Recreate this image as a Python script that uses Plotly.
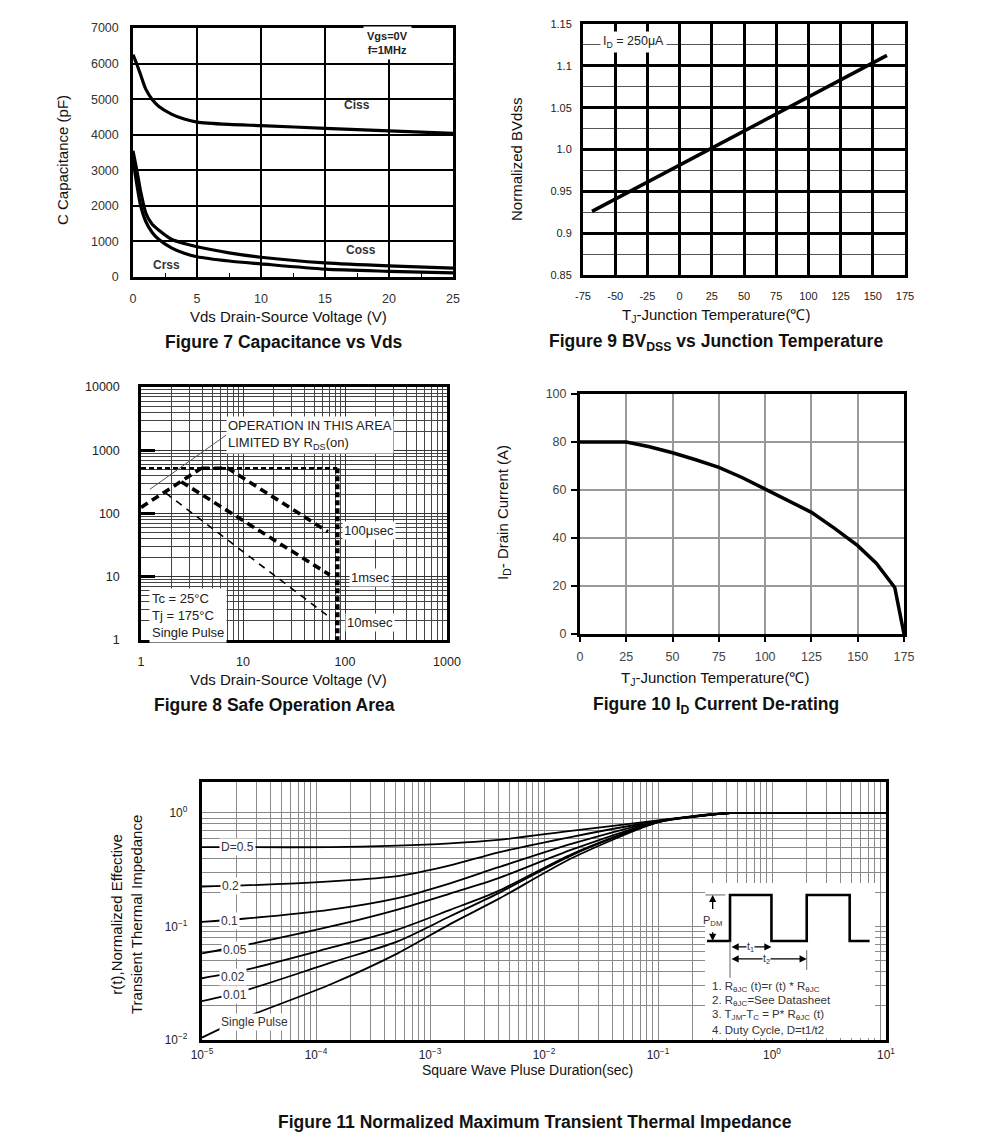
import numpy as np
import plotly.graph_objects as go

W, H = 991, 1147
FONT = "Liberation Sans, Arial, Helvetica, sans-serif"

# ---------------- data ----------------
# Figure 7 - Capacitance vs Vds
cap_vds = [0, 0.3, 0.6, 1, 1.5, 2, 3, 4, 5, 7.5, 10, 15, 20, 25]
ciss_pf = [6250, 5980, 5680, 5280, 4990, 4800, 4580, 4440, 4355, 4290, 4255, 4180, 4110, 4040]
coss_pf = [3550, 3000, 2400, 1800, 1480, 1320, 1060, 940, 850, 680, 555, 395, 310, 250]
crss_pf = [3300, 2600, 2000, 1560, 1250, 1060, 820, 670, 570, 450, 370, 220, 160, 115]

# Figure 9 - BVdss vs junction temperature
bv_tj = [-68, 161]
bv_norm = [0.926, 1.1125]

# Figure 8 - Safe operating area
rds_vds = [1, 3.9]
rds_id = [125, 518]
dc_vds = [1, 84]
dc_id = [518, 518]
vmax_vds = [84, 84]
vmax_id = [518, 1]
us100_vds = [3.9, 7.1, 68]
us100_id = [518, 518, 51.5]
ms1_vds = [2.48, 70.8]
ms1_id = [318, 10.7]
ms10_vds = [1.75, 68]
ms10_id = [210, 2.4]
leader_vds = [1.22, 6.86]
leader_id = [241, 1742]

# Figure 10 - ID de-rating
der_tj = [0, 25, 37.5, 50, 62.5, 75, 87.5, 100, 112.5, 125, 137.5, 150, 160, 170, 175]
der_id = [80, 80, 78, 75.5, 72.6, 69.4, 65.2, 60.4, 55.8, 50.7, 44, 36.8, 29.5, 19.4, 0]

# Figure 11 - transient thermal impedance
zth_t = [1e-5, 2.3e-5, 1.35e-4, 5.2e-4, 1.5e-3, 4e-3, 1.8e-2, 0.1, 0.2, 0.4, 1, 10]
zth_curves = {
    "D=0.5": [0.50, 0.50, 0.50, 0.515, 0.54, 0.58, 0.70, 0.86, 0.94, 0.995, 1.0, 1.0],
    "0.2": [0.225, 0.23, 0.25, 0.278, 0.345, 0.45, 0.62, 0.85, 0.935, 0.995, 1.0, 1.0],
    "0.1": [0.11, 0.117, 0.141, 0.178, 0.24, 0.333, 0.54, 0.845, 0.93, 0.995, 1.0, 1.0],
    "0.05": [0.058, 0.068, 0.10, 0.141, 0.195, 0.267, 0.48, 0.84, 0.93, 0.995, 1.0, 1.0],
    "0.02": [0.035, 0.041, 0.065, 0.094, 0.14, 0.206, 0.44, 0.835, 0.925, 0.995, 1.0, 1.0],
    "0.01": [0.022, 0.027, 0.048, 0.074, 0.123, 0.197, 0.43, 0.83, 0.925, 0.995, 1.0, 1.0],
    "Single Pulse": [0.0105, 0.0155, 0.031, 0.058, 0.105, 0.175, 0.405, 0.825, 0.92, 0.995, 1.0, 1.0],
}
zth_label_t = [2.04e-5, 1.78e-5, 1.75e-5, 1.95e-5, 1.86e-5, 1.95e-5, 2.88e-5]
zth_label_r = [0.50, 0.228, 0.112, 0.0617, 0.0356, 0.0248, 0.0143]

# inset pulse diagram (abstract units, t2 = 10)
pulse_t = [-3.0, 0, 0, 5.4, 5.4, 10, 10, 15.6, 15.6, 18.2]
pulse_p = [0, 0, 1, 1, 0, 0, 1, 1, 0, 0]
t1_end = 5.4
t2_end = 10

# ---------------- helpers ----------------
def xd(x0, x1):
    return [x0 / W, x1 / W]

def yd(y0, y1):
    return [1 - y1 / H, 1 - y0 / H]

def px(x):
    return x / W

def py(y):
    return 1 - y / H

fig = go.Figure()

def line(x, y, ax, width=2.0, dash="solid", color="black", shape="linear", smoothing=1.0, fill=None, fillcolor=None):
    fig.add_trace(go.Scatter(
        x=x, y=y, mode="lines", xaxis="x" + ax if ax != "1" else "x",
        yaxis="y" + ax if ax != "1" else "y",
        line=dict(color=color, width=width, dash=dash, shape=shape, smoothing=smoothing),
        fill=fill, fillcolor=fillcolor, hoverinfo="skip", showlegend=False))

# Figure 7
for arr in (ciss_pf, coss_pf, crss_pf):
    line(cap_vds, arr, "1", width=3.2, shape="spline", smoothing=0.7)

# Figure 9
line(bv_tj, bv_norm, "2", width=3.5)

# Figure 8
line(dc_vds, dc_id, "3", width=2.6, dash="5px,3px")
line(rds_vds, rds_id, "3", width=3.6, dash="8px,5px")
line(us100_vds, us100_id, "3", width=3.6, dash="8px,5px")
line(ms1_vds, ms1_id, "3", width=3.6, dash="8px,5px")
line(ms10_vds, ms10_id, "3", width=1.6, dash="7px,6px")
line(vmax_vds, vmax_id, "3", width=4.5, dash="5px,3px")
line(leader_vds, leader_id, "3", width=1.0, color="#555")

# Figure 10
line(der_tj, der_id, "4", width=3.5)

# Figure 11
for name, vals in zth_curves.items():
    line(zth_t, vals, "5", width=1.8, shape="spline", smoothing=0.8)

# Inset (own axes, drawn over figure 11 grid)
inset_xr = [-3.26, 18.9]
inset_yr = [-2.11, 1.26]
line([inset_xr[0], inset_xr[1], inset_xr[1], inset_xr[0], inset_xr[0]],
     [inset_yr[0], inset_yr[0], inset_yr[1], inset_yr[1], inset_yr[0]],
     "6", width=0, color="white", fill="toself", fillcolor="white")
line(pulse_t, pulse_p, "6", width=2.6)

# ---------------- axes ----------------
frame = dict(showline=True, linecolor="black", mirror=True, zeroline=False, automargin=False)

layout = dict(
    width=W, height=H, autosize=False,
    margin=dict(l=0, r=0, t=0, b=0, pad=0),
    paper_bgcolor="white", plot_bgcolor="white",
    font=dict(family=FONT, color="#111"),
    showlegend=False,
)

minus_alias = {"−75": "-75", "−50": "-50", "−25": "-25"}

# Figure 7 axes
layout["xaxis"] = dict(frame, domain=xd(133, 453), range=[0, 25], anchor="y",
                       tickmode="linear", tick0=0, dtick=5, showgrid=True, gridcolor="black", gridwidth=2,
                       linewidth=2.5, ticks="", ticklabelstandoff=8,
                       tickfont=dict(size=12.5, color="#333"),
                       minor=dict(dtick=2.5, ticks="inside", ticklen=4, tickcolor="black", tickwidth=1.2, showgrid=False))
layout["yaxis"] = dict(frame, domain=yd(28, 277), range=[0, 7000], anchor="x",
                       tickmode="linear", tick0=0, dtick=1000, showgrid=True, gridcolor="black", gridwidth=2,
                       linewidth=2.5, ticks="", ticklabelstandoff=9,
                       tickfont=dict(size=12.5, color="#333"))

# Figure 9 axes
layout["xaxis2"] = dict(frame, domain=xd(583, 905), range=[-75, 175], anchor="y2",
                        tickmode="linear", tick0=-75, dtick=25, showgrid=True, gridcolor="black", gridwidth=3,
                        linewidth=3, ticks="", ticklabelstandoff=9, labelalias=minus_alias,
                        tickfont=dict(size=11, color="#222"))
layout["yaxis2"] = dict(frame, domain=yd(24, 275), range=[0.85, 1.15], anchor="x2",
                        tickmode="linear", tick0=0.85, dtick=0.05, showgrid=True, gridcolor="black", gridwidth=3,
                        linewidth=3, ticks="", ticklabelstandoff=6, labelalias={"1": "1.0"},
                        tickfont=dict(size=11, color="#222"),
                        minor=dict(dtick=0.025, showgrid=True, gridcolor="#555", gridwidth=1, ticks=""))

# Figure 8 axes
layout["xaxis3"] = dict(frame, type="log", domain=xd(141, 447), range=[0, 3], anchor="y3",
                        tickmode="linear", tick0=0, dtick=1, tickformat="d",
                        showgrid=True, gridcolor="#333", gridwidth=1,
                        linewidth=2.5, ticks="", ticklabelstandoff=8,
                        tickfont=dict(size=12.5, color="#222"),
                        minor=dict(dtick="D1", showgrid=True, gridcolor="#444", gridwidth=0.9, ticks=""))
layout["yaxis3"] = dict(frame, type="log", domain=yd(387, 640), range=[0, 4], anchor="x3",
                        tickmode="linear", tick0=0, dtick=1, tickformat="d",
                        showgrid=True, gridcolor="#333", gridwidth=1,
                        linewidth=2.5, ticks="inside", ticklen=14, tickwidth=3, tickcolor="black",
                        ticklabelstandoff=16,
                        tickfont=dict(size=12.5, color="#222"),
                        minor=dict(dtick="D1", showgrid=True, gridcolor="#444", gridwidth=0.9, ticks=""))

# Figure 10 axes
layout["xaxis4"] = dict(frame, domain=xd(580, 904), range=[0, 175], anchor="y4",
                        tickmode="linear", tick0=0, dtick=25, showgrid=True, gridcolor="#9a9a9a", gridwidth=1.5,
                        linewidth=3, ticks="outside", ticklen=5, tickcolor="black", tickwidth=1.5,
                        ticklabelstandoff=4,
                        tickfont=dict(size=12.5, color="#444"))
layout["yaxis4"] = dict(frame, domain=yd(394, 634), range=[0, 100], anchor="x4",
                        tickmode="linear", tick0=0, dtick=20, showgrid=True, gridcolor="#9a9a9a", gridwidth=1.5,
                        linewidth=3, ticks="outside", ticklen=6, tickcolor="black", tickwidth=1.5,
                        ticklabelstandoff=2,
                        tickfont=dict(size=12.5, color="#444"))

# Figure 11 axes
layout["xaxis5"] = dict(frame, type="log", domain=xd(202, 886), range=[-5, 1], anchor="y5",
                        tickmode="linear", tick0=0, dtick=1, exponentformat="power",
                        labelalias={"1": "10<sup>0</sup>", "10": "10<sup>1</sup>"},
                        showgrid=True, gridcolor="#8a8a8a", gridwidth=1,
                        linewidth=2.5, ticks="", ticklabelstandoff=2,
                        tickfont=dict(size=9.5, color="#222"),
                        minor=dict(dtick="D1", showgrid=True, gridcolor="#8a8a8a", gridwidth=1, ticks=""))
layout["yaxis5"] = dict(frame, type="log", domain=yd(782, 1040), range=[-2, 0.273], anchor="x5",
                        tickmode="linear", tick0=0, dtick=1, exponentformat="power",
                        labelalias={"1": "10<sup>0</sup>", "10": "10<sup>1</sup>"},
                        showgrid=True, gridcolor="#8a8a8a", gridwidth=1,
                        linewidth=2.5, ticks="", ticklabelstandoff=10,
                        tickfont=dict(size=9.5, color="#222"),
                        minor=dict(dtick="D1", showgrid=True, gridcolor="#8a8a8a", gridwidth=1, ticks=""))

# Inset axes
layout["xaxis6"] = dict(domain=xd(705, 875), range=inset_xr, anchor="y6", visible=False, fixedrange=True, automargin=False)
layout["yaxis6"] = dict(domain=yd(883, 1038), range=inset_yr, anchor="x6", visible=False, fixedrange=True, automargin=False)

# ---------------- text ----------------
ann = []

def text(t, x, y, size=15, bold=False, angle=0, xanchor="center", yanchor="middle",
         xref="paper", yref="paper", color="#111", bg=None, align="center", pad=1):
    a = dict(text=("<b>%s</b>" % t) if bold else t, x=x, y=y, xref=xref, yref=yref,
             showarrow=False, textangle=angle, xanchor=xanchor, yanchor=yanchor, align=align,
             font=dict(family=FONT, size=size, color=color), borderpad=pad)
    if bg:
        a["bgcolor"] = bg
    ann.append(a)

# captions
text("Figure 7 Capacitance vs Vds", px(284), py(342), size=17.5, bold=True)
text("Figure 9 BV<sub>DSS</sub> vs Junction Temperature", px(716), py(342), size=17.5, bold=True)
text("Figure 8 Safe Operation Area", px(274), py(705), size=17.5, bold=True)
text("Figure 10 I<sub>D</sub> Current De-rating", px(716), py(705), size=17.5, bold=True)
text("Figure 11 Normalized Maximum Transient Thermal Impedance", px(535), py(1122), size=17.5, bold=True)

# axis titles
text("Vds Drain-Source Voltage (V)", px(288), py(317), size=15)
text("C Capacitance (pF)", px(63), py(160), size=15, angle=-90)
text("T<sub>J</sub>-Junction Temperature(℃)", px(716), py(316), size=15)
text("Normalized BVdss", px(517), py(160), size=15, angle=-90)
text("Vds Drain-Source Voltage (V)", px(288), py(679), size=15)
text("T<sub>J</sub>-Junction Temperature(℃)", px(715), py(678), size=15)
text("I<sub>D</sub>- Drain Current (A)", px(503), py(513), size=15, angle=-90)
text("Square Wave Pluse Duration(sec)", px(527), py(1070), size=14)
text("r(t),Normalized Effective<br>Transient Thermal Impedance", px(126), py(915), size=15, angle=-90)

# Figure 7 labels
text("Vgs=0V<br>f=1MHz", 19.9, 6570, size=11, bold=True, xref="x", yref="y", color="#222", bg="white", pad=3)
text("Ciss", 17.5, 4830, size=12, bold=True, xref="x", yref="y", color="#333")
text("Coss", 17.8, 750, size=12, bold=True, xref="x", yref="y", color="#333")
text("Crss", 2.6, 330, size=12, bold=True, xref="x", yref="y", color="#333")

# Figure 9 label
text("I<sub>D</sub> = 250μA", -36, 1.128, size=12.5, xref="x2", yref="y2", color="#222", bg="white", pad=2)

# Figure 8 labels
text("OPERATION IN THIS AREA<br>LIMITED BY R<sub>DS</sub>(on)", np.log10(6.8), np.log10(1722), size=13,
     xref="x3", yref="y3", xanchor="left", align="left", color="#222", bg="white", pad=1)
text("100μsec", np.log10(93), np.log10(53.5), size=13, xref="x3", yref="y3", xanchor="left", color="#222", bg="white")
text("1msec", np.log10(108.7), np.log10(9.7), size=13, xref="x3", yref="y3", xanchor="left", color="#222", bg="white")
text("10msec", np.log10(99.3), np.log10(1.88), size=13, xref="x3", yref="y3", xanchor="left", color="#222", bg="white")
text("Tc = 25°C<br>Tj = 175°C<br>Single Pulse", np.log10(1.2), np.log10(2.48), size=13,
     xref="x3", yref="y3", xanchor="left", align="left", color="#222", bg="white", pad=2)

# Figure 11 labels
for name, lt, lr in zip(zth_curves.keys(), zth_label_t, zth_label_r):
    text(name, np.log10(lt), np.log10(lr), size=12, xref="x5", yref="y5", color="#333", bg="white", pad=1)

# inset annotations
def arrow(x, y, axv, ayv, both=False):
    a = dict(x=x, y=y, ax=axv, ay=ayv, xref="x6", yref="y6", axref="x6", ayref="y6",
             text="", showarrow=True, arrowhead=2, arrowsize=1.1, arrowwidth=1.3, arrowcolor="black",
             standoff=0, startstandoff=0)
    if both:
        a["arrowside"] = "end+start"
        a["startarrowhead"] = 2
        a["startarrowsize"] = 1.1
    ann.append(a)

arrow(-2.26, 1, -2.26, 0.66)
arrow(-2.26, 0, -2.26, 0.22)
text("P<sub>DM</sub>", -2.26, 0.44, size=11, xref="x6", yref="y6", color="#333")
arrow(t1_end, -0.13, 0, -0.13, both=True)
text("t<sub>1</sub>", t1_end / 2, -0.13, size=10.5, xref="x6", yref="y6", color="#333", bg="white", pad=0)
arrow(t2_end, -0.39, 0, -0.39, both=True)
text("t<sub>2</sub>", 4.7, -0.39, size=10.5, xref="x6", yref="y6", color="#333", bg="white", pad=0)

notes = ["1. R<sub>θJC</sub> (t)=r (t) * R<sub>θJC</sub>",
         "2. R<sub>θJC</sub>=See Datasheet",
         "3. T<sub>JM</sub>-T<sub>C</sub> = P* R<sub>θJC</sub> (t)",
         "4. Duty Cycle, D=t1/t2"]
for i, n in enumerate(notes):
    text(n, -2.6, -1.0 - 0.31 * i, size=11.5, xref="x6", yref="y6", xanchor="left", color="#333")

layout["annotations"] = ann
layout["shapes"] = [
    dict(type="line", xref="x6", yref="y6", x0=-3.2, x1=-0.6, y0=1, y1=1, line=dict(color="#666", width=1)),
    dict(type="line", xref="x6", yref="y6", x0=0, x1=0, y0=0, y1=-0.80, line=dict(color="#666", width=1)),
    dict(type="line", xref="x6", yref="y6", x0=t2_end, x1=t2_end, y0=-0.2, y1=-0.63, line=dict(color="#666", width=1)),
]

fig.update_layout(layout)
fig.write_html("out.html", config={"displayModeBar": False},
               post_script="document.body.style.margin='0';document.body.style.padding='0';")
